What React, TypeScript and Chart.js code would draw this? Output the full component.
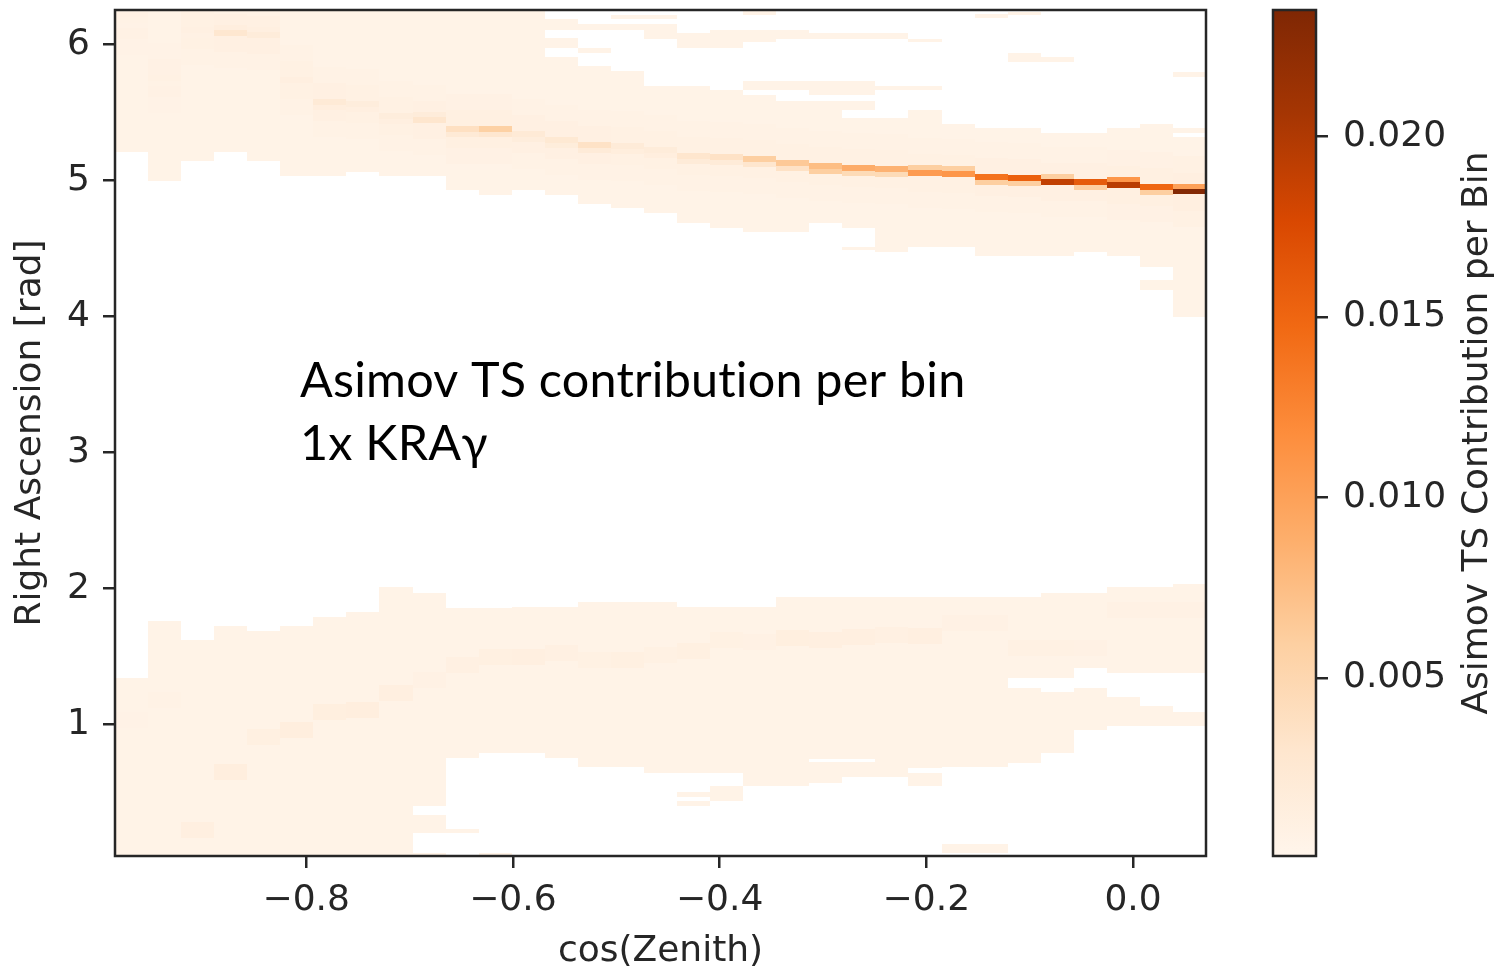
import React, { useEffect, useRef } from "react";
import { Chart, registerables } from "chart.js";

Chart.register(...registerables);

// ---------- axes ----------
const cosZenithRange = [-0.985, 0.0706];
const raRange = [0.032, 6.252];
const colorRange = [0.00007, 0.0235];
const cosZenithBinCount = 33;
const raBinHeight = 0.04;

const xTickValues = [-0.8, -0.6, -0.4, -0.2, 0.0];
const yTickValues = [1, 2, 3, 4, 5, 6];
const colorTickValues = [0.005, 0.01, 0.015, 0.02];

const xAxisTitle = "cos(Zenith)";
const yAxisTitle = "Right Ascension [rad]";
const colorbarTitle = "Asimov TS Contribution per Bin";
const annotationLines = ["Asimov TS contribution per bin", "1x KRAγ"];

// ---------- data (per cos(zenith) column) ----------
const bandBaseValue = 0.0005;

// RA intervals [lo, hi] where the upper band has non-empty bins
const upperBandSegments: number[][][] = [
  [[5.208, 6.252]],
  [[4.995, 6.252]],
  [[5.142, 6.252]],
  [[5.208, 6.252]],
  [[5.142, 6.252]],
  [[5.032, 6.252]],
  [[5.032, 6.252]],
  [[5.061, 6.252]],
  [[5.032, 6.252]],
  [[5.032, 6.252]],
  [[4.929, 6.252]],
  [[4.892, 6.252]],
  [[4.929, 6.252]],
  [[4.892, 5.907], [5.973, 6.046], [6.107, 6.188]],
  [[4.826, 5.838], [5.936, 5.973], [6.107, 6.151]],
  [[4.796, 5.801], [6.107, 6.151], [6.188, 6.218]],
  [[4.76, 5.691], [6.041, 6.151], [6.188, 6.218]],
  [[4.686, 5.691], [5.973, 6.083]],
  [[4.649, 5.666], [5.973, 6.107]],
  [[4.62, 5.625], [5.662, 5.732], [6.015, 6.107], [6.218, 6.243]],
  [[4.62, 5.585], [5.662, 5.732], [6.041, 6.107]],
  [[4.686, 5.585], [5.625, 5.732], [6.041, 6.083]],
  [[4.488, 4.51], [4.649, 5.458], [5.517, 5.585], [5.625, 5.732], [6.041, 6.083]],
  [[4.473, 5.458], [5.662, 5.693], [6.039, 6.083]],
  [[4.51, 5.517], [5.662, 5.691], [6.015, 6.041]],
  [[4.51, 5.414]],
  [[4.443, 5.385], [6.193, 6.223]],
  [[4.443, 5.385], [5.87, 5.936], [6.215, 6.238]],
  [[4.443, 5.348], [5.87, 5.907]],
  [[4.473, 5.348]],
  [[4.443, 5.385]],
  [[4.193, 4.267], [4.362, 5.414]],
  [[3.995, 5.318], [5.348, 5.385], [5.759, 5.796]],
];

// RA intervals [lo, hi] where the lower band has non-empty bins
const lowerBandSegments: number[][][] = [
  [[0.032, 1.34]],
  [[0.032, 1.762]],
  [[0.032, 1.62]],
  [[0.032, 1.725]],
  [[0.032, 1.686]],
  [[0.032, 1.725]],
  [[0.032, 1.791]],
  [[0.032, 1.828]],
  [[0.032, 2.007]],
  [[0.032, 0.054], [0.201, 0.333], [0.399, 1.968]],
  [[0.199, 0.228], [0.752, 1.857]],
  [[0.032, 0.054], [0.789, 1.857]],
  [[0.789, 1.862]],
  [[0.752, 1.862]],
  [[0.686, 1.901]],
  [[0.686, 1.901]],
  [[0.642, 1.901]],
  [[0.401, 0.438], [0.468, 0.504], [0.642, 1.862]],
  [[0.438, 0.546], [0.642, 1.862]],
  [[0.546, 1.862]],
  [[0.546, 1.938]],
  [[0.571, 0.723], [0.743, 1.938]],
  [[0.615, 0.723], [0.743, 1.938]],
  [[0.615, 1.938]],
  [[0.546, 0.642], [0.679, 1.938]],
  [[0.056, 0.12], [0.686, 1.938]],
  [[0.056, 0.12], [0.686, 1.938]],
  [[0.718, 1.269], [1.34, 1.938]],
  [[0.787, 1.24], [1.34, 1.968]],
  [[0.958, 1.269], [1.412, 1.968]],
  [[0.99, 1.203], [1.375, 2.007]],
  [[0.99, 1.137], [1.375, 2.007]],
  [[0.99, 1.093], [1.375, 2.032]],
];

// the bright ridge in the upper band
const ridgeRA = [
  6.179, 5.752, 6.105, 6.083, 6.068, 5.737, 5.575, 5.561, 5.473, 5.443, 5.377,
  5.377, 5.34, 5.296, 5.259, 5.252, 5.223, 5.179, 5.171, 5.157, 5.127, 5.105,
  5.09, 5.083, 5.054, 5.046, 5.024, 5.017, 4.987, 4.987, 4.965, 4.95, 4.916,
];
const ridgeValue = [
  0.0007, 0.0009, 0.001, 0.0028, 0.0018, 0.0012, 0.0022, 0.0016, 0.0016, 0.003,
  0.0038, 0.0058, 0.0022, 0.0025, 0.0035, 0.002, 0.0018, 0.003, 0.0035, 0.006,
  0.0065, 0.0075, 0.009, 0.0085, 0.0105, 0.011, 0.014, 0.0155, 0.019, 0.016,
  0.0195, 0.015, 0.0232,
];
const ridgeNeighborValue = [
  0.0006, 0.0007, 0.0008, 0.0014, 0.0012, 0.0009, 0.0014, 0.0012, 0.0012,
  0.0018, 0.0022, 0.0028, 0.0016, 0.0017, 0.002, 0.0015, 0.0014, 0.002, 0.002,
  0.003, 0.0035, 0.006, 0.0045, 0.0045, 0.006, 0.006, 0.006, 0.006, 0.006,
  0.006, 0.011, 0.006, 0.01,
];
const ridgeNeighborSide = [
  -1, -1, -1, 1, 1, -1, -1, -1, -1, 1, -1, -1, -1, -1, -1, -1, -1, -1, -1, -1,
  -1, -1, -1, -1, 1, 1, -1, -1, 1, -1, 1, -1, 1,
];
const ridgeHaloValue = [
  0.0008, 0.0008, 0.0009, 0.001, 0.001, 0.0009, 0.001, 0.0009, 0.0009, 0.001,
  0.0011, 0.0011, 0.001, 0.001, 0.001, 0.0009, 0.0009, 0.0009, 0.0009, 0.0009,
  0.0009, 0.0009, 0.0009, 0.0009, 0.0009, 0.0009, 0.001, 0.001, 0.001, 0.001,
  0.0011, 0.0011, 0.0012,
];

// faint streak in the lower band
const lowerStreakRA = [
  1.032, 1.179, 0.223, 0.65, 0.908, 0.958, 1.091, 1.105, 1.23, 1.325, 1.436,
  1.495, 1.495, 1.524, 1.473, 1.473, 1.51, 1.539, 1.62, 1.605, 1.634, 1.62,
  1.642, 1.657, 1.649, 1.745, 1.745, 1.561, 1.561, 1.561, 1.841, 1.841, 1.841,
];
const lowerStreakValue = [
  0.0006, 0.0007, 0.0012, 0.0014, 0.0011, 0.0014, 0.0013, 0.0014, 0.0012,
  0.0008, 0.001, 0.0011, 0.0012, 0.001, 0.0009, 0.0011, 0.0009, 0.0011, 0.0009,
  0.0008, 0.0013, 0.0012, 0.0012, 0.001, 0.0012, 0.0008, 0.0008, 0.0009,
  0.0009, 0.0008, 0.0008, 0.0008, 0.0008,
];

// ---------- colour map (matplotlib "Oranges") ----------
const orangesStops = [
  "#fff5eb", "#fee6ce", "#fdd0a2", "#fdae6b", "#fd8d3c",
  "#f16913", "#d94801", "#a63603", "#7f2704",
];

const axisColor = "#262626";
const FONT = "DejaVu Sans";

function hexRgb(h: string) {
  return [parseInt(h.slice(1, 3), 16), parseInt(h.slice(3, 5), 16), parseInt(h.slice(5, 7), 16)];
}
function orangesColor(v: number) {
  let t = (v - colorRange[0]) / (colorRange[1] - colorRange[0]);
  t = Math.max(0, Math.min(1, t));
  const s = t * (orangesStops.length - 1);
  const i = Math.min(orangesStops.length - 2, Math.floor(s));
  const f = s - i;
  const a = hexRgb(orangesStops[i]);
  const b = hexRgb(orangesStops[i + 1]);
  const c = a.map((x, k) => Math.round(x + (b[k] - x) * f));
  return `rgb(${c[0]},${c[1]},${c[2]})`;
}

function findSegment(segs: number[][], ra: number) {
  return segs.find(([a, b]) => ra >= a && ra <= b);
}

const heatmapPlugin = {
  id: "heatmap",
  beforeDatasetsDraw(chart: any) {
    const { ctx, chartArea, scales } = chart;
    const xs = scales.x;
    const ys = scales.y;
    const binW = (cosZenithRange[1] - cosZenithRange[0]) / cosZenithBinCount;
    const h = raBinHeight;
    ctx.save();
    ctx.beginPath();
    ctx.rect(chartArea.left, chartArea.top, chartArea.width, chartArea.height);
    ctx.clip();
    const fill = (c: number, lo: number, hi: number, v: number) => {
      const x0 = Math.round(xs.getPixelForValue(cosZenithRange[0] + c * binW));
      const x1 = Math.round(xs.getPixelForValue(cosZenithRange[0] + (c + 1) * binW));
      const y0 = Math.round(ys.getPixelForValue(hi));
      const y1 = Math.round(ys.getPixelForValue(lo));
      ctx.fillStyle = orangesColor(v);
      ctx.fillRect(x0, y0, x1 - x0, y1 - y0);
    };
    const cell = (c: number, segs: number[][], ra: number, v: number) => {
      const seg = findSegment(segs, ra);
      if (!seg) return;
      fill(c, Math.max(seg[0], ra - h / 2), Math.min(seg[1], ra + h / 2), v);
    };
    for (let c = 0; c < cosZenithBinCount; c++) {
      for (const s of upperBandSegments[c]) fill(c, s[0], s[1], bandBaseValue);
      for (const s of lowerBandSegments[c]) fill(c, s[0], s[1], bandBaseValue);
      for (let d = -6; d <= 6; d++) {
        if (d === 0) continue;
        const v = Math.abs(d) <= 3 ? ridgeHaloValue[c] : ridgeHaloValue[c] * 0.7;
        cell(c, upperBandSegments[c], ridgeRA[c] + d * h, v);
      }
      for (let d = -1; d <= 1; d++) {
        cell(c, lowerBandSegments[c], lowerStreakRA[c] + d * h, lowerStreakValue[c]);
      }
      cell(c, upperBandSegments[c], ridgeRA[c] + ridgeNeighborSide[c] * h, ridgeNeighborValue[c]);
      cell(c, upperBandSegments[c], ridgeRA[c], ridgeValue[c]);
    }
    ctx.restore();
  },
  afterDraw(chart: any) {
    const { ctx, chartArea } = chart;
    ctx.save();
    ctx.strokeStyle = axisColor;
    ctx.lineWidth = 2.5;
    ctx.strokeRect(chartArea.left, chartArea.top, chartArea.right - chartArea.left, chartArea.bottom - chartArea.top);
    // annotation text
    ctx.fillStyle = "#000";
    try {
      (ctx as any).textRendering = "optimizeSpeed";
      (ctx as any).letterSpacing = "0.2px";
    } catch (e) {
      /* ignore */
    }
    let size = 46;
    ctx.font = `${size}px Lato`;
    const w = ctx.measureText(annotationLines[0]).width;
    size = (size * 666) / w;
    ctx.font = `${size}px Lato`;
    ctx.textBaseline = "alphabetic";
    ctx.textAlign = "left";
    ctx.fillText(annotationLines[0], 300, 397);
    ctx.fillText(annotationLines[1], 300, 460);
    ctx.restore();
  },
};

const colorbarPlugin = {
  id: "colorbar",
  beforeDatasetsDraw(chart: any) {
    const { ctx, chartArea, scales } = chart;
    const ys = scales.y;
    const yBottom = ys.getPixelForValue(colorRange[0]);
    const yTop = ys.getPixelForValue(colorRange[1]);
    const g = ctx.createLinearGradient(0, yBottom, 0, yTop);
    orangesStops.forEach((col, i) => g.addColorStop(i / (orangesStops.length - 1), col));
    ctx.save();
    ctx.fillStyle = g;
    ctx.fillRect(chartArea.left, yTop, chartArea.right - chartArea.left, yBottom - yTop);
    ctx.restore();
  },
  afterDraw(chart: any) {
    const { ctx, chartArea } = chart;
    ctx.save();
    ctx.strokeStyle = axisColor;
    ctx.lineWidth = 2.5;
    ctx.strokeRect(chartArea.left, chartArea.top, chartArea.right - chartArea.left, chartArea.bottom - chartArea.top);
    ctx.fillStyle = axisColor;
    ctx.font = `36px "${FONT}"`;
    ctx.textAlign = "center";
    ctx.textBaseline = "alphabetic";
    ctx.translate(247, (chartArea.top + chartArea.bottom) / 2);
    ctx.rotate(-Math.PI / 2);
    ctx.fillText(colorbarTitle, 0, 0);
    ctx.restore();
  },
};

const gridOpts = {
  display: true,
  drawOnChartArea: false,
  drawTicks: true,
  tickLength: 12,
  tickWidth: 2.5,
  tickColor: axisColor,
  color: axisColor,
  lineWidth: 2.5,
};

function fmtSigned(v: number, digits: number) {
  const s = Math.abs(v).toFixed(digits);
  return v < -1e-12 ? "\u2212" + s : s;
}

export default function App() {
  const mainRef = useRef<HTMLCanvasElement>(null);
  const barRef = useRef<HTMLCanvasElement>(null);

  useEffect(() => {
    const main = new Chart(mainRef.current as HTMLCanvasElement, {
      type: "scatter",
      data: { datasets: [{ data: [] }] },
      options: {
        animation: false,
        responsive: false,
        maintainAspectRatio: false,
        layout: { padding: { left: 0, top: 10, right: 34, bottom: 0 } },
        plugins: { legend: { display: false }, tooltip: { enabled: false } },
        scales: {
          x: {
            type: "linear",
            position: "bottom",
            min: cosZenithRange[0],
            max: cosZenithRange[1],
            afterBuildTicks: (a: any) => {
              a.ticks = xTickValues.map((value) => ({ value }));
            },
            afterFit: (a: any) => {
              a.height = 114;
              a.paddingLeft = 0;
              a.paddingRight = 0;
            },
            grid: gridOpts,
            border: { display: false },
            ticks: {
              autoSkip: false,
              maxRotation: 0,
              minRotation: 0,
              padding: 11,
              color: axisColor,
              font: { family: FONT, size: 36 },
              callback: (v: any) => fmtSigned(Number(v), 1),
            },
            title: {
              display: true,
              text: xAxisTitle,
              color: axisColor,
              font: { family: FONT, size: 36, lineHeight: 1.0 },
              padding: { top: 0, bottom: 0 },
            },
          },
          y: {
            type: "linear",
            position: "left",
            min: raRange[0],
            max: raRange[1],
            afterBuildTicks: (a: any) => {
              a.ticks = yTickValues.map((value) => ({ value }));
            },
            afterFit: (a: any) => {
              a.width = 115;
              a.paddingTop = 0;
              a.paddingBottom = 0;
            },
            grid: gridOpts,
            border: { display: false },
            ticks: {
              autoSkip: false,
              padding: 13,
              color: axisColor,
              font: { family: FONT, size: 36 },
              callback: (v: any) => String(Number(v)),
            },
            title: {
              display: true,
              text: yAxisTitle,
              color: axisColor,
              font: { family: FONT, size: 36, lineHeight: 1.2 },
              padding: { top: 9, bottom: 0 },
            },
          },
        },
      },
      plugins: [heatmapPlugin],
    } as any);

    const bar = new Chart(barRef.current as HTMLCanvasElement, {
      type: "scatter",
      data: { datasets: [{ data: [] }] },
      options: {
        animation: false,
        responsive: false,
        maintainAspectRatio: false,
        layout: { padding: { left: 33, top: 10, right: 0, bottom: 114 } },
        plugins: { legend: { display: false }, tooltip: { enabled: false } },
        scales: {
          x: { type: "linear", display: false, min: 0, max: 1 },
          y: {
            type: "linear",
            position: "right",
            min: colorRange[0],
            max: colorRange[1],
            afterBuildTicks: (a: any) => {
              a.ticks = colorTickValues.map((value) => ({ value }));
            },
            afterFit: (a: any) => {
              a.width = 183;
              a.paddingTop = 0;
              a.paddingBottom = 0;
            },
            grid: gridOpts,
            border: { display: false },
            ticks: {
              autoSkip: false,
              padding: 15,
              color: axisColor,
              font: { family: FONT, size: 36 },
              callback: (v: any) => Number(v).toFixed(3),
            },
          },
        },
      },
      plugins: [colorbarPlugin],
    } as any);

    return () => {
      main.destroy();
      bar.destroy();
    };
  }, []);

  return (
    <div style={{ position: "absolute", left: 0, top: 0, width: 1499, height: 970, background: "#fff" }}>
      <canvas
        ref={mainRef}
        width={1240}
        height={970}
        style={{ position: "absolute", left: 0, top: 0, width: 1240, height: 970 }}
      />
      <canvas
        ref={barRef}
        width={259}
        height={970}
        style={{ position: "absolute", left: 1240, top: 0, width: 259, height: 970 }}
      />
    </div>
  );
}
